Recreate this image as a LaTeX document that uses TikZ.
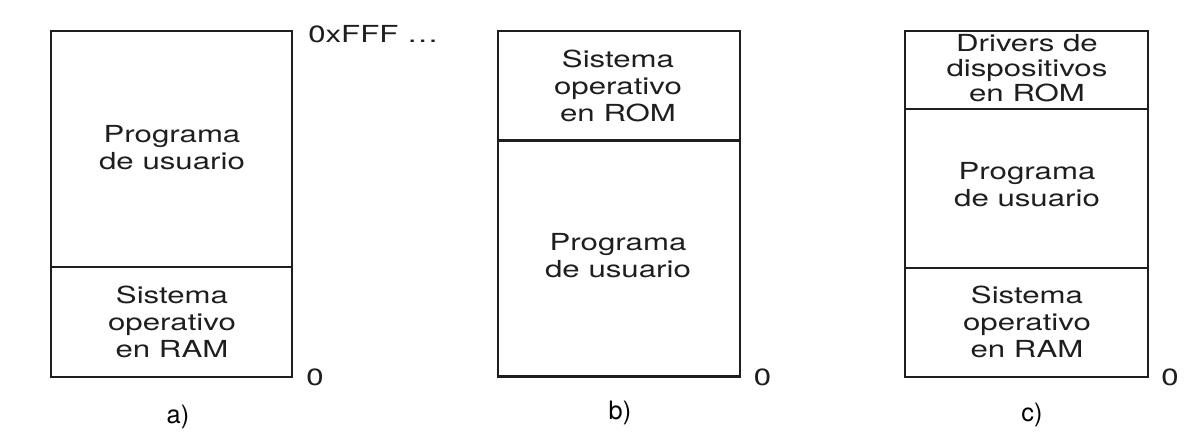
\documentclass[tikz,border=0pt]{standalone}
\usepackage{fontspec}
\usepackage{tikz}
\usepackage{xcolor}
\newfontfamily\memfont[FakeStretch=1.33]{TeX Gyre Heros}
\newfontfamily\capfont{TeX Gyre Heros}
\tikzset{
  memline/.style={line width=2.1pt, draw={rgb,255:red,30;green,30;blue,30}},
  memdiv/.style={line width=1.7pt, draw={rgb,255:red,30;green,30;blue,30}},
  memtext/.style={inner sep=0pt, align=center, text={rgb,255:red,30;green,30;blue,30},
    font=\memfont\fontsize{17.6}{20.25}\selectfont},
  addrtext/.style={inner sep=0pt, text={rgb,255:red,30;green,30;blue,30},
    font=\memfont\fontsize{17.6}{20.25}\selectfont},
  captext/.style={inner sep=0pt, anchor=base, font=\capfont\fontsize{19}{21}\selectfont}
}
\begin{document}
\begin{tikzpicture}[x=0.75pt,y=0.75pt,yscale=-1,xscale=1]
\useasboundingbox (0,0) rectangle (1204,448);

%Shape: Rectangle (a)
\draw [memline] (51,31) -- (292,31) -- (292,377) -- (51,377) -- cycle ;
%Straight Lines (a)
\draw [memdiv] (51,267) -- (292,267) ;

%Shape: Rectangle (b)
\draw [memline] (498,31) -- (740,31) -- (740,376.5) -- (498,376.5) -- cycle ;
%Straight Lines (b)
\draw [memdiv] (498,140.5) -- (740,140.5) ;

%Shape: Rectangle (c)
\draw [memline] (905,31) -- (1148,31) -- (1148,377) -- (905,377) -- cycle ;
%Straight Lines (c)
\draw [memdiv] (905,109) -- (1148,109) ;
\draw [memdiv] (905,268) -- (1148,268) ;

% Text Node
\draw (172,147.5) node (progA) [memtext] {Programa\\de usuario};
% Text Node
\draw (172,322) node (sysA) [memtext] {Sistema\\operativo\\en RAM};
% Text Node
\draw (618,85.7) node (romB) [memtext] {Sistema\\operativo\\en ROM};
% Text Node
\draw (618,255.5) node (progB) [memtext] {Programa\\de usuario};
% Text Node
\draw (1027,68.5) node (drvC) [memtext, font=\memfont\fontsize{17.6}{18.75}\selectfont] {Drivers de\\dispositivos\\en ROM};
% Text Node
\draw (1027,185) node (progC) [memtext] {Programa\\de usuario};
% Text Node
\draw (1027,322) node (sysC) [memtext] {Sistema\\operativo\\en RAM};

% Text Node
\draw (308,43) node (topA) [addrtext, anchor=base west] {0xFFF \dots};
% Text Node
\draw (315,377) node (zeroA) [addrtext] {0};
% Text Node
\draw (762.5,377) node (zeroB) [addrtext] {0};
% Text Node
\draw (1170,377) node (zeroC) [addrtext] {0};

% Text Node
\draw (178,424) node (capA) [captext] {a)};
% Text Node
\draw (620,420) node (capB) [captext] {b)};
% Text Node
\draw (1032,422) node (capC) [captext] {c)};

\end{tikzpicture}
\end{document}
